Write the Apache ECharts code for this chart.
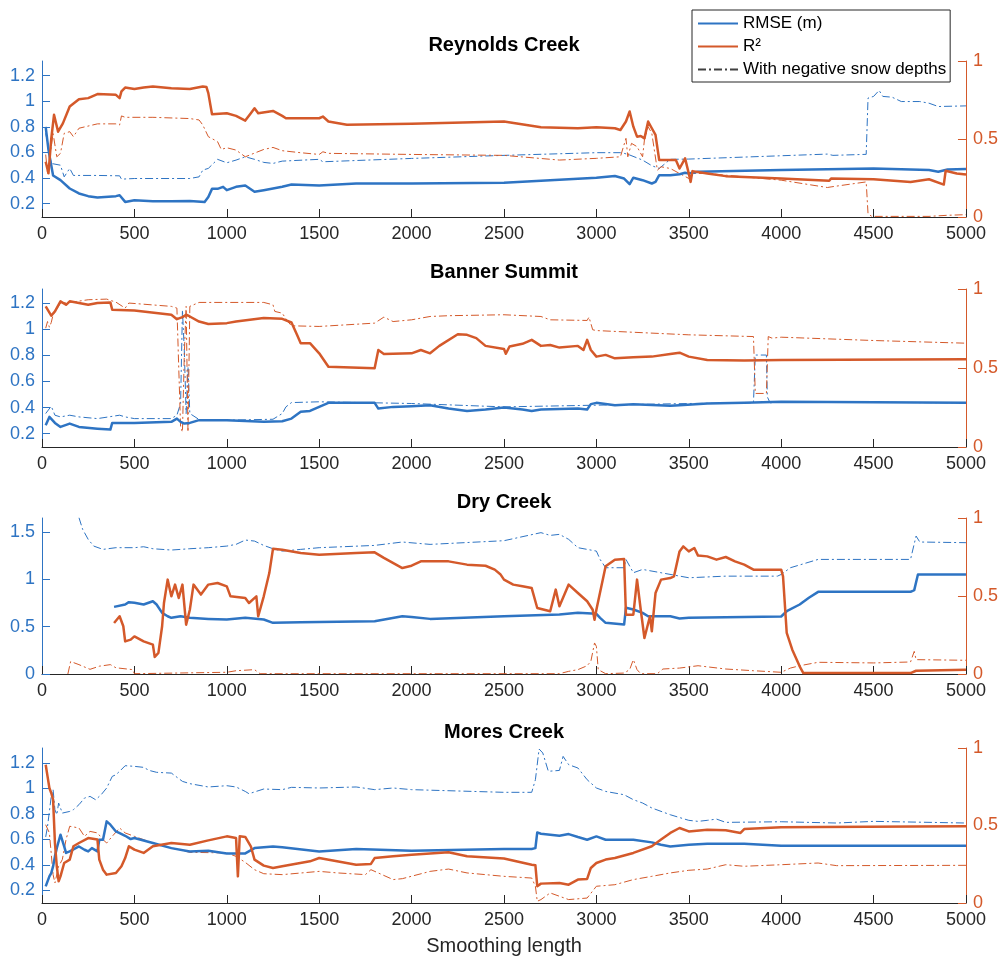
<!DOCTYPE html>
<html><head><meta charset="utf-8">
<script src="https://cdn.jsdelivr.net/npm/echarts@6/dist/echarts.min.js"></script>
<style>html,body{margin:0;padding:0;background:#fff}#c{width:1001px;height:960px}</style>
</head><body><div id="c"></div>
<script>
// ---------- tick labels / categories ----------
const panelTitles = ['Reynolds Creek', 'Banner Summit', 'Dry Creek', 'Mores Creek'];
const xTicks = [0, 500, 1000, 1500, 2000, 2500, 3000, 3500, 4000, 4500, 5000];
const rmseTicks = [0.2, 0.4, 0.6, 0.8, 1, 1.2];
const rmseTicksDry = [0, 0.5, 1, 1.5];
const r2Ticks = [0, 0.5, 1];
const legendNames = ['RMSE (m)', 'R²', 'With negative snow depths'];

// ---------- Reynolds Creek ----------
const reyRmse = [[20,0.80],[35,0.62],[50,0.50],[60,0.42],[100,0.383],[150,0.318],[200,0.279],[250,0.258],[300,0.247],[400,0.258],[420,0.265],[450,0.213],[500,0.226],[600,0.218],[700,0.218],[800,0.221],[880,0.213],[900,0.252],[920,0.315],[950,0.315],[980,0.331],[1000,0.305],[1050,0.331],[1100,0.341],[1150,0.292],[1200,0.305],[1300,0.331],[1350,0.349],[1500,0.341],[1600,0.349],[1700,0.357],[2000,0.357],[2500,0.362],[3000,0.402],[3100,0.415],[3150,0.396],[3180,0.352],[3200,0.402],[3250,0.383],[3300,0.357],[3320,0.370],[3340,0.422],[3400,0.422],[3450,0.430],[3480,0.441],[3500,0.436],[3550,0.449],[4000,0.462],[4500,0.475],[4800,0.462],[4850,0.449],[4900,0.467],[5000,0.470]];
const reyRmseNeg = [[20,0.75],[40,0.60],[50,0.514],[100,0.50],[120,0.409],[150,0.475],[170,0.42],[300,0.420],[420,0.417],[430,0.391],[500,0.396],[800,0.396],[850,0.409],[870,0.462],[900,0.475],[950,0.546],[1000,0.519],[1050,0.540],[1100,0.566],[1150,0.546],[1200,0.522],[1250,0.514],[1300,0.532],[1500,0.546],[1520,0.527],[2000,0.553],[2500,0.577],[3000,0.598],[3130,0.598],[3150,0.593],[3180,0.580],[3250,0.540],[3300,0.496],[3340,0.475],[3400,0.546],[3500,0.548],[4000,0.574],[4250,0.587],[4280,0.577],[4460,0.585],[4470,1.025],[4500,1.038],[4530,1.085],[4550,1.038],[4600,1.032],[4650,0.998],[4750,0.998],[4800,0.985],[4850,0.959],[5000,0.964]];
const reyR2 = [[20,0.354],[35,0.28],[50,0.50],[65,0.655],[87,0.547],[113,0.60],[150,0.708],[200,0.755],[250,0.762],[300,0.788],[400,0.783],[420,0.762],[430,0.805],[450,0.830],[500,0.820],[550,0.830],[600,0.837],[700,0.826],[800,0.820],[870,0.837],[890,0.833],[900,0.794],[920,0.659],[1000,0.665],[1050,0.648],[1100,0.618],[1130,0.665],[1150,0.697],[1170,0.665],[1250,0.680],[1300,0.648],[1320,0.633],[1500,0.633],[1520,0.644],[1550,0.612],[1650,0.592],[2000,0.597],[2500,0.612],[2700,0.575],[2900,0.569],[3000,0.575],[3100,0.569],[3130,0.558],[3160,0.612],[3180,0.676],[3200,0.579],[3220,0.515],[3240,0.519],[3260,0.504],[3280,0.612],[3300,0.569],[3320,0.526],[3340,0.365],[3430,0.365],[3450,0.311],[3480,0.376],[3500,0.279],[3510,0.225],[3520,0.294],[3600,0.279],[3700,0.262],[4000,0.247],[4260,0.232],[4270,0.247],[4500,0.242],[4700,0.225],[4800,0.242],[4880,0.208],[4890,0.296],[4950,0.279],[5000,0.273]];
const reyR2Neg = [[20,0.40],[30,0.28],[60,0.536],[80,0.386],[100,0.408],[120,0.536],[150,0.547],[170,0.515],[200,0.569],[300,0.597],[400,0.597],[420,0.590],[430,0.648],[450,0.639],[600,0.639],[800,0.631],[850,0.622],[870,0.590],[900,0.515],[950,0.483],[970,0.433],[1000,0.444],[1050,0.429],[1100,0.386],[1200,0.433],[1250,0.446],[1300,0.425],[1400,0.412],[1500,0.401],[1520,0.418],[1550,0.408],[2000,0.401],[2500,0.395],[2800,0.365],[3000,0.376],[3130,0.386],[3160,0.504],[3170,0.386],[3190,0.472],[3220,0.451],[3250,0.386],[3260,0.494],[3280,0.579],[3300,0.536],[3330,0.300],[3350,0.322],[3400,0.311],[3450,0.279],[3500,0.247],[3520,0.279],[3600,0.279],[3700,0.268],[4000,0.236],[4250,0.189],[4270,0.193],[4460,0.225],[4470,0.021],[4490,0.004],[4800,0.004],[4900,0.011],[5000,0.015]];

// ---------- Banner Summit ----------
const banRmse = [[20,0.264],[40,0.328],[50,0.341],[70,0.282],[100,0.251],[150,0.277],[200,0.251],[300,0.238],[370,0.231],[380,0.282],[500,0.282],[700,0.290],[730,0.315],[750,0.290],[770,0.277],[800,0.282],[850,0.303],[1000,0.303],[1200,0.290],[1300,0.295],[1350,0.315],[1400,0.367],[1450,0.374],[1500,0.405],[1550,0.436],[1800,0.436],[1820,0.392],[1900,0.405],[2000,0.410],[2100,0.418],[2200,0.392],[2300,0.374],[2400,0.385],[2500,0.400],[2600,0.385],[2650,0.374],[2700,0.385],[2900,0.392],[2950,0.385],[2970,0.426],[3000,0.436],[3100,0.418],[3200,0.426],[3400,0.413],[3450,0.418],[3600,0.431],[3800,0.436],[4000,0.444],[5000,0.436]];
const banRmseNeg = [[20,0.354],[50,0.410],[70,0.341],[100,0.328],[150,0.341],[200,0.328],[300,0.315],[420,0.341],[450,0.328],[500,0.315],[700,0.315],[730,0.341],[750,0.431],[760,1.149],[770,0.841],[780,0.354],[790,0.713],[800,0.354],[850,0.308],[1000,0.303],[1250,0.310],[1300,0.354],[1320,0.405],[1350,0.438],[1500,0.444],[2000,0.431],[2500,0.405],[3000,0.418],[3500,0.431],[3850,0.436],[3860,0.803],[3920,0.803],[3925,0.482],[3940,0.436],[4000,0.444],[5000,0.436]];
const banR2 = [[20,0.890],[50,0.831],[70,0.858],[100,0.922],[130,0.900],[150,0.922],[250,0.900],[300,0.911],[370,0.915],[380,0.869],[500,0.864],[700,0.837],[730,0.809],[760,0.822],[780,0.837],[800,0.826],[850,0.794],[900,0.778],[1000,0.784],[1050,0.794],[1200,0.816],[1300,0.811],[1350,0.788],[1380,0.710],[1400,0.657],[1450,0.657],[1500,0.593],[1550,0.508],[1800,0.498],[1820,0.614],[1850,0.589],[2000,0.593],[2050,0.614],[2100,0.593],[2150,0.640],[2250,0.714],[2300,0.710],[2350,0.689],[2400,0.640],[2500,0.620],[2510,0.590],[2530,0.636],[2600,0.653],[2650,0.678],[2700,0.640],[2750,0.646],[2800,0.629],[2900,0.640],[2930,0.614],[2950,0.678],[2970,0.614],[3000,0.572],[3050,0.583],[3100,0.561],[3200,0.568],[3300,0.572],[3400,0.589],[3450,0.597],[3500,0.572],[3600,0.551],[3800,0.547],[4000,0.551],[5000,0.555]];
const banR2Neg = [[20,0.752],[30,0.794],[40,0.758],[50,0.788],[60,0.837],[100,0.911],[150,0.915],[250,0.932],[350,0.936],[370,0.928],[400,0.917],[450,0.879],[470,0.911],[700,0.890],[730,0.879],[740,0.869],[750,0.127],[760,0.095],[770,0.583],[780,0.890],[790,0.095],[800,0.890],[850,0.915],[1200,0.915],[1250,0.900],[1260,0.858],[1300,0.847],[1330,0.794],[1350,0.767],[1500,0.763],[1800,0.784],[1850,0.822],[1900,0.794],[2000,0.805],[2100,0.826],[2200,0.831],[2500,0.837],[2700,0.826],[2750,0.805],[2950,0.801],[2960,0.822],[2980,0.742],[3000,0.737],[3500,0.710],[3850,0.699],[3860,0.339],[3920,0.339],[3930,0.699],[3950,0.689],[4000,0.695],[4500,0.674],[5000,0.657]];

// ---------- Dry Creek ----------
const dryRmse = [[390,0.710],[450,0.735],[470,0.760],[500,0.753],[550,0.735],[600,0.770],[620,0.735],[650,0.647],[680,0.611],[700,0.594],[750,0.611],[800,0.594],[900,0.583],[1000,0.576],[1100,0.594],[1200,0.576],[1250,0.541],[1400,0.548],[1800,0.558],[1950,0.611],[2000,0.604],[2100,0.583],[2500,0.610],[2800,0.629],[2900,0.647],[3000,0.636],[3020,0.594],[3050,0.541],[3150,0.523],[3160,0.700],[3200,0.682],[3250,0.647],[3280,0.611],[3400,0.611],[3450,0.587],[3500,0.594],[4000,0.608],[4030,0.664],[4100,0.735],[4150,0.806],[4200,0.869],[4700,0.869],[4720,0.887],[4740,1.053],[5000,1.053]];
const dryRmseNeg = [[200,1.654],[220,1.530],[250,1.424],[280,1.353],[330,1.318],[400,1.336],[500,1.336],[550,1.346],[600,1.325],[700,1.311],[800,1.325],[900,1.336],[1000,1.353],[1050,1.371],[1100,1.417],[1150,1.406],[1200,1.360],[1250,1.325],[1300,1.300],[1400,1.318],[1500,1.336],[1800,1.360],[1950,1.396],[2100,1.371],[2500,1.410],[2700,1.495],[2750,1.466],[2800,1.477],[2850,1.424],[2900,1.336],[3000,1.300],[3020,1.212],[3050,1.124],[3150,1.124],[3160,1.212],[3200,1.071],[3250,1.106],[3350,1.071],[3500,1.018],[3700,1.035],[3980,1.035],[4000,1.053],[4050,1.124],[4200,1.212],[4700,1.212],[4730,1.459],[4750,1.396],[5000,1.389]];
const dryR2 = [[390,0.327],[420,0.370],[440,0.306],[450,0.209],[480,0.220],[500,0.241],[550,0.209],[600,0.188],[610,0.109],[630,0.135],[650,0.306],[660,0.455],[680,0.605],[700,0.498],[720,0.573],[740,0.487],[760,0.573],[780,0.316],[800,0.412],[820,0.573],[860,0.509],[900,0.573],[950,0.583],[1000,0.562],[1020,0.498],[1100,0.487],[1120,0.455],[1160,0.498],[1170,0.370],[1200,0.498],[1230,0.647],[1250,0.803],[1300,0.797],[1400,0.776],[1500,0.765],[1700,0.776],[1800,0.780],[1850,0.744],[1950,0.679],[2000,0.694],[2050,0.722],[2200,0.722],[2300,0.701],[2400,0.694],[2450,0.669],[2480,0.640],[2500,0.605],[2550,0.573],[2600,0.562],[2650,0.551],[2680,0.423],[2750,0.402],[2780,0.541],[2800,0.434],[2850,0.573],[2900,0.519],[2950,0.466],[2980,0.412],[2990,0.348],[3000,0.412],[3050,0.690],[3100,0.733],[3150,0.737],[3160,0.380],[3200,0.380],[3220,0.605],[3240,0.412],[3260,0.231],[3290,0.370],[3300,0.274],[3320,0.519],[3350,0.605],[3400,0.615],[3420,0.626],[3450,0.786],[3470,0.818],[3500,0.786],[3530,0.808],[3550,0.759],[3600,0.754],[3650,0.733],[3700,0.750],[3750,0.722],[3800,0.701],[3850,0.669],[4000,0.669],[4010,0.626],[4030,0.263],[4060,0.156],[4100,0.049],[4120,0.006],[4700,0.006],[4730,0.021],[5000,0.028]];
const dryR2Neg = [[140,0.0],[155,0.08],[200,0.06],[260,0.03],[310,0.05],[370,0.06],[400,0.04],[490,0.028],[500,0.002],[1000,0.011],[1050,0.021],[1150,0.028],[1180,0.002],[2800,0.002],[2850,0.017],[2900,0.028],[2950,0.053],[2970,0.081],[2990,0.199],[3000,0.177],[3010,0.028],[3050,0.002],[3150,0.006],[3180,0.028],[3200,0.092],[3220,0.028],[3240,0.002],[3330,0.002],[3360,0.032],[3450,0.038],[3550,0.053],[3700,0.032],[3850,0.021],[4000,0.011],[4050,0.038],[4100,0.053],[4200,0.075],[4500,0.071],[4700,0.077],[4720,0.145],[4730,0.092],[5000,0.088]];

// ---------- Mores Creek ----------
const morRmse = [[20,0.231],[40,0.310],[50,0.336],[60,0.388],[70,0.467],[80,0.532],[100,0.637],[120,0.545],[130,0.494],[150,0.506],[200,0.545],[230,0.519],[250,0.506],[270,0.532],[300,0.506],[310,0.598],[330,0.598],[350,0.742],[370,0.716],[400,0.663],[420,0.650],[450,0.629],[480,0.603],[500,0.611],[600,0.572],[700,0.532],[800,0.506],[900,0.512],[1000,0.490],[1100,0.490],[1150,0.532],[1250,0.545],[1300,0.538],[1500,0.506],[1700,0.525],[2000,0.512],[2500,0.525],[2650,0.525],[2670,0.532],[2680,0.655],[2700,0.645],[2800,0.629],[2850,0.642],[2900,0.619],[2950,0.598],[3000,0.624],[3050,0.598],[3200,0.598],[3300,0.577],[3350,0.559],[3400,0.545],[3500,0.559],[3600,0.566],[3800,0.566],[4000,0.551],[5000,0.551]];
const morRmseNeg = [[20,0.62],[30,0.703],[50,0.938],[60,0.991],[70,0.834],[80,0.794],[90,0.886],[110,0.807],[150,0.820],[170,0.834],[200,0.873],[230,0.925],[260,0.938],[290,0.912],[320,0.951],[350,1.004],[380,1.095],[400,1.108],[420,1.135],[450,1.179],[500,1.174],[550,1.166],[580,1.142],[620,1.127],[700,1.121],[760,1.056],[800,1.038],[900,1.012],[1000,1.022],[1050,1.012],[1100,0.977],[1120,0.959],[1200,0.996],[1300,0.991],[1350,1.009],[1500,1.004],[1700,1.012],[1800,0.991],[1900,1.004],[2000,0.991],[2500,0.970],[2650,0.970],[2670,1.069],[2690,1.310],[2710,1.279],[2740,1.135],[2800,1.142],[2820,1.252],[2850,1.187],[2900,1.161],[2950,1.069],[3000,1.004],[3050,0.977],[3150,0.951],[3200,0.912],[3250,0.886],[3300,0.847],[3400,0.794],[3500,0.750],[3550,0.742],[3600,0.750],[3650,0.760],[3700,0.734],[4000,0.739],[4300,0.729],[4500,0.742],[5000,0.729]];
const morR2 = [[20,0.892],[30,0.817],[40,0.742],[50,0.710],[60,0.667],[70,0.387],[80,0.237],[90,0.140],[100,0.172],[120,0.258],[150,0.280],[170,0.366],[200,0.387],[250,0.419],[300,0.409],[310,0.280],[330,0.215],[350,0.183],[400,0.194],[430,0.237],[450,0.290],[470,0.366],[500,0.344],[550,0.323],[600,0.366],[700,0.387],[800,0.376],[900,0.404],[1000,0.430],[1050,0.419],[1060,0.172],[1070,0.430],[1100,0.426],[1130,0.366],[1150,0.280],[1200,0.241],[1250,0.226],[1300,0.237],[1450,0.269],[1500,0.290],[1700,0.247],[1780,0.252],[1800,0.290],[1900,0.301],[2000,0.312],[2200,0.327],[2300,0.301],[2500,0.287],[2650,0.247],[2670,0.243],[2680,0.108],[2700,0.125],[2800,0.129],[2850,0.118],[2900,0.151],[2950,0.155],[2970,0.226],[3000,0.258],[3050,0.280],[3100,0.290],[3200,0.323],[3300,0.366],[3350,0.409],[3400,0.452],[3450,0.484],[3500,0.462],[3600,0.473],[3700,0.469],[3780,0.452],[3800,0.477],[4000,0.488],[4200,0.490],[5000,0.495]];
const morR2Neg = [[20,0.505],[40,0.452],[60,0.183],[70,0.129],[90,0.237],[110,0.280],[130,0.409],[150,0.495],[200,0.484],[230,0.430],[260,0.462],[300,0.452],[330,0.409],[350,0.387],[380,0.430],[420,0.484],[450,0.452],[500,0.430],[600,0.387],[700,0.355],[800,0.327],[1000,0.323],[1050,0.301],[1100,0.262],[1150,0.215],[1200,0.189],[1300,0.183],[1500,0.204],[1600,0.194],[1750,0.183],[1780,0.215],[1900,0.151],[1950,0.157],[2100,0.204],[2200,0.219],[2300,0.194],[2500,0.172],[2650,0.161],[2670,0.108],[2680,0.011],[2700,0.022],[2750,0.065],[2850,0.022],[2950,0.032],[3000,0.108],[3100,0.118],[3200,0.151],[3300,0.172],[3400,0.194],[3500,0.211],[3600,0.219],[3700,0.247],[3800,0.237],[4000,0.247],[4200,0.258],[4300,0.241],[5000,0.243]];

// ---------- layout / style (not data) ----------
const FONT = '"Liberation Sans", Arial, Helvetica, sans-serif';
const BLUE = '#2E74C3', ORANGE = '#D4592A', AXIS = '#262626';
const DASHDOT = [8, 3, 2, 3];
const gridBox = [{top: 61, height: 156}, {top: 289, height: 158}, {top: 518, height: 156}, {top: 748, height: 155}];
const leftRange = [[0.095, 1.315], [0.097, 1.31], [0, 1.65], [0.101, 1.318]];
const leftTickSets = [rmseTicks, rmseTicks, rmseTicksDry, rmseTicks];
const titleY = [45, 272, 502, 732];
const panels = [
  [reyRmse, reyRmseNeg, reyR2, reyR2Neg],
  [banRmse, banRmseNeg, banR2, banR2Neg],
  [dryRmse, dryRmseNeg, dryR2, dryR2Neg],
  [morRmse, morRmseNeg, morR2, morR2Neg]
];
const plain = v => String(Math.round(v * 1000) / 1000);

const grid = [], xAxis = [], yAxis = [], series = [];
gridBox.forEach((g, i) => {
  grid.push({left: 42, right: 35, top: g.top, height: g.height, containLabel: false});
  xAxis.push({
    type: 'value', gridIndex: i, min: xTicks[0], max: xTicks[xTicks.length - 1],
    interval: xTicks[1] - xTicks[0],
    axisLine: {show: true, onZero: false, lineStyle: {color: AXIS, width: 1}},
    axisTick: {show: true, inside: true, length: 8, lineStyle: {color: AXIS}},
    axisLabel: {fontSize: 18, color: AXIS, margin: 8, fontFamily: FONT, formatter: plain},
    splitLine: {show: false},
    name: i === 3 ? 'Smoothing length' : '',
    nameLocation: 'middle', nameGap: 33,
    nameTextStyle: {fontSize: 20, color: AXIS, fontFamily: FONT}
  });
  yAxis.push({
    type: 'value', gridIndex: i, position: 'left', min: leftRange[i][0], max: leftRange[i][1],
    axisLine: {show: true, onZero: false, lineStyle: {color: BLUE, width: 1}},
    axisTick: {show: true, inside: true, length: 8, lineStyle: {color: BLUE}, customValues: leftTickSets[i]},
    axisLabel: {fontSize: 18, color: BLUE, margin: 7, fontFamily: FONT, customValues: leftTickSets[i], formatter: plain},
    splitLine: {show: false}
  });
  yAxis.push({
    type: 'value', gridIndex: i, position: 'right', min: r2Ticks[0], max: r2Ticks[r2Ticks.length - 1],
    interval: r2Ticks[1] - r2Ticks[0],
    axisLine: {show: true, onZero: false, lineStyle: {color: ORANGE, width: 1}},
    axisTick: {show: true, inside: true, length: 8, lineStyle: {color: ORANGE}},
    axisLabel: {fontSize: 18, color: ORANGE, margin: 7, fontFamily: FONT, formatter: plain},
    splitLine: {show: false}
  });
  const [rm, rmN, r2, r2N] = panels[i];
  const mk = (name, data, color, width, dash, yi, z) => ({
    type: 'line', name, data, xAxisIndex: i, yAxisIndex: yi, symbol: 'none', showSymbol: false,
    lineStyle: {color, width, type: dash ? DASHDOT : 'solid', cap: 'butt', join: 'round'},
    itemStyle: {color}, emphasis: {disabled: true}, silent: true, z, clip: true
  });
  series.push(mk('neg_rmse_' + i, rmN, BLUE, 1, true, 2 * i, 2));
  series.push(mk('neg_r2_' + i, r2N, ORANGE, 1, true, 2 * i + 1, 2));
  series.push(mk(legendNames[0], rm, BLUE, 2.5, false, 2 * i, 3));
  series.push(mk(legendNames[1], r2, ORANGE, 2.5, false, 2 * i + 1, 3));
});
series.push({
  type: 'line', name: legendNames[2], data: [], xAxisIndex: 0, yAxisIndex: 0, symbol: 'none',
  lineStyle: {color: '#404040', width: 1.5, type: DASHDOT}, itemStyle: {color: '#404040'}
});

const chart = echarts.init(document.getElementById('c'), null, {renderer: 'canvas'});
chart.setOption({
  animation: false,
  backgroundColor: '#ffffff',
  textStyle: {fontFamily: FONT},
  grid, xAxis, yAxis, series,
  legend: {
    data: legendNames, orient: 'vertical', left: 692, top: 10,
    itemWidth: 40, itemHeight: 12, itemGap: 4, padding: [4, 4, 3, 5],
    borderColor: AXIS, borderWidth: 1, backgroundColor: '#ffffff',
    itemStyle: {opacity: 0, color: 'rgba(0,0,0,0)', borderWidth: 0},
    textStyle: {fontSize: 17, color: '#000', lineHeight: 19, fontFamily: FONT},
    selectedMode: false, z: 10
  },
  graphic: panelTitles.map((t, i) => ({
    type: 'text', x: 504, y: titleY[i], z: 10,
    style: {text: t, font: 'bold 20px ' + FONT, fill: '#000', align: 'center', verticalAlign: 'middle'}
  }))
});
</script></body></html>
